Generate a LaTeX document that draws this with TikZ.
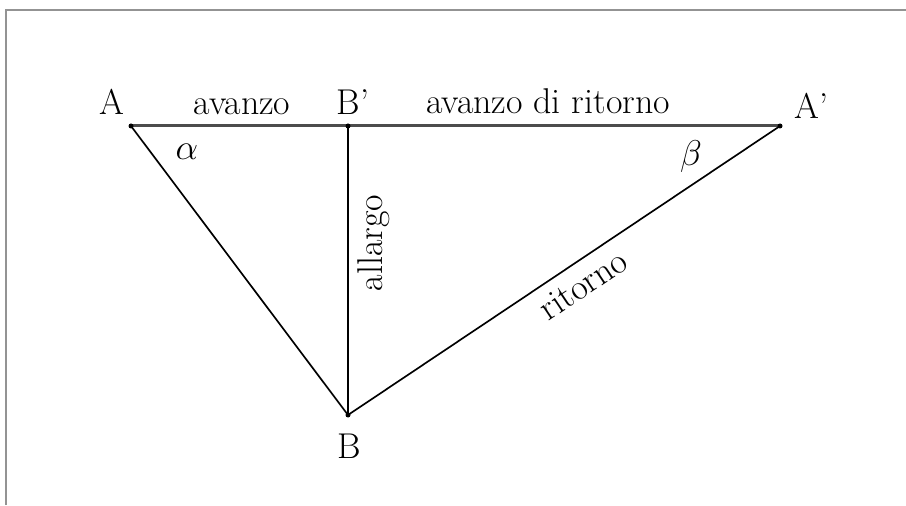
\RequirePackage{fix-cm}
\documentclass[tikz,border=0pt]{standalone}
\usepackage{amsmath}
\usepackage{xcolor}
\usepackage{tikz}
\usetikzlibrary{calc,positioning}
\colorlet{framegray}{gray!85}
\colorlet{basegray}{black!70}
\newcommand{\lblfont}{\fontsize{21.5}{24}\selectfont}
\tikzset{
  side/.style={line width=1pt,black},
  basis/.style={line width=1.8pt,basegray},
  ptlabel/.style={font=\lblfont,inner sep=0pt},
}

\begin{document}
\begin{tikzpicture}[x=0.6pt,y=0.6pt]
\useasboundingbox (0,0) rectangle (906,505);
% frame: only the top and left edges show
\draw[framegray,line width=1.2pt] (6,0)--(6,495)--(906,495);
% corners of the triangle
\coordinate (A) at (131,379); \coordinate (Bp) at (348,379);
\coordinate (Ap) at (780,379); \coordinate (B) at (348,90);
% sides
\draw[basis] (A)--(Ap);
\draw[side] (Bp)--(B);
\draw[side] (A)--(B);
\draw[side] (B)--(Ap) node[pos=0.515,sloped,below=6pt,ptlabel] (ritorno) {ritorno};
\foreach \p in {A,Bp,Ap,B} \fill (\p) circle (1.5pt);
% point names
\node[ptlabel,anchor=base] (lA) at (111.5,390) {A};
\node[ptlabel,anchor=base] (lBp) at (353,390) {B'};
\node[ptlabel,anchor=base] (lAp) at (811.5,386) {A'};
\node[ptlabel,anchor=base] (lB) at (349,47) {B};
% side names and angles
\node[ptlabel,anchor=base] (avanzo) at (242,390) {avanzo};
\node[ptlabel,anchor=base] (ritavanzo) at (548,391) {avanzo di ritorno};
\node[ptlabel,rotate=90] (allargo) at (374,262) {allargo};
\node[ptlabel] (alpha) at (187,353) {$\alpha$};
\node[ptlabel] (beta) at (691,348) {$\beta$};
\end{tikzpicture}
\end{document}
